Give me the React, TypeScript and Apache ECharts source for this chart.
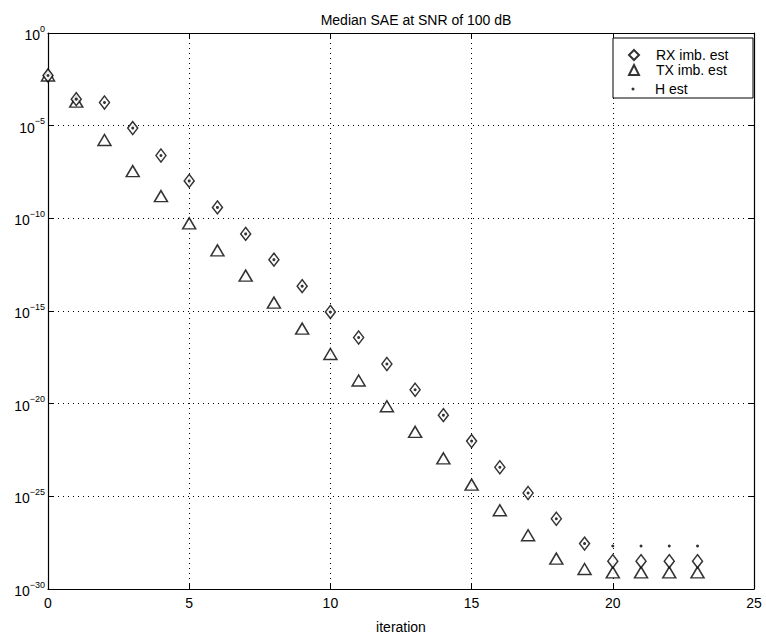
import React, { useEffect, useRef } from "react";
import * as echarts from "echarts";

const iterations = [0, 1, 2, 3, 4, 5, 6, 7, 8, 9, 10, 11, 12, 13, 14, 15, 16, 17, 18, 19, 20, 21, 22, 23];
// log10 of median SAE
const rxExp = [-2.29, -3.57, -3.75, -5.13, -6.61, -7.98, -9.41, -10.84, -12.23, -13.66, -15.05, -16.43, -17.86, -19.25, -20.62, -22.02, -23.43, -24.82, -26.21, -27.55, -28.5, -28.5, -28.5, -28.5];
const txExp = [-2.29, -3.7, -5.77, -7.45, -8.8, -10.27, -11.73, -13.09, -14.55, -15.95, -17.32, -18.75, -20.14, -21.52, -22.95, -24.37, -25.75, -27.1, -28.36, -28.92, -29.1, -29.1, -29.1, -29.1];
const hExp = [-2.29, -3.57, -3.75, -5.13, -6.61, -7.98, -9.41, -10.84, -12.23, -13.66, -15.05, -16.43, -17.86, -19.25, -20.62, -22.02, -23.43, -24.82, -26.21, -27.55, -27.68, -27.68, -27.68, -27.68];
const yTickExps = [0, -5, -10, -15, -20, -25, -30];

const FONT = "Liberation Sans, Arial, Helvetica, sans-serif";

export default function App() {
  const ref = useRef<HTMLDivElement>(null);
  useEffect(() => {
    if (!ref.current) return;
    const chart = echarts.init(ref.current, undefined, { renderer: "svg" });
    const toPts = (exps: number[]) => iterations.map((x, i) => [x, exps[i]]);
    const hollow = { color: "#fff", borderColor: "#000", borderWidth: 1.5 };
    const gridLine = { show: true, lineStyle: { color: "#000", type: [1, 4] as any, width: 1 } };
    const axisLine = { show: true, onZero: false, lineStyle: { color: "#000", width: 1.2 } };
    const tick = { show: true, inside: true, length: 6, lineStyle: { color: "#000" } };
    chart.setOption({
      animation: false,
      backgroundColor: "#fff",
      textStyle: { fontFamily: FONT },
      title: {
        text: "Median SAE at SNR of 100 dB",
        left: 411,
        textAlign: "center",
        top: 8,
        textStyle: { fontSize: 14, fontWeight: "normal", color: "#000", fontFamily: FONT },
      },
      graphic: [
        {
          type: "rect",
          shape: { x: 613, y: 38, width: 140, height: 60 },
          style: { fill: "#fff", stroke: "#000", lineWidth: 1 },
          z: 10,
        },
      ],
      legend: [
        {
          left: 628,
          top: 48,
          orient: "vertical",
          padding: 0,
          itemGap: 1,
          itemWidth: 10,
          itemHeight: 10,
          z: 20,
          textStyle: { fontSize: 14, color: "#000", fontFamily: FONT, padding: [0, 0, 0, 12] },
          data: ["RX imb. est", "TX imb. est"],
        },
        {
          left: 631.5,
          top: 82,
          orient: "vertical",
          padding: 0,
          itemWidth: 3,
          itemHeight: 3,
          z: 20,
          textStyle: { fontSize: 14, color: "#000", fontFamily: FONT, padding: [0, 0, 0, 15.5] },
          data: ["H est"],
        },
      ],
      grid: { left: 48, right: 12, top: 33, bottom: 46 },
      xAxis: [
        {
          type: "value",
          min: 0,
          max: 25,
          interval: 5,
          name: "iteration",
          nameLocation: "middle",
          nameGap: 31,
          nameTextStyle: { fontSize: 14, color: "#000", fontFamily: FONT },
          axisLine,
          axisTick: tick,
          axisLabel: { fontSize: 14, color: "#000", margin: 7, fontFamily: FONT },
          splitLine: gridLine,
        },
        {
          type: "value",
          position: "top",
          min: 0,
          max: 25,
          interval: 5,
          axisLine,
          axisTick: tick,
          axisLabel: { show: false },
          splitLine: { show: false },
        },
      ],
      yAxis: [
        {
          type: "value",
          min: -30,
          max: 0,
          interval: 5,
          axisLine,
          axisTick: tick,
          axisLabel: {
            color: "#000",
            margin: 3,
            fontFamily: FONT,
            formatter: (v: number) => {
              const e = Math.round(v);
              return yTickExps.includes(e) ? `{b|10}{s|${e < 0 ? "\u2212" + -e : e}}` : "";
            },
            rich: {
              b: { fontSize: 14, color: "#000", fontFamily: FONT, verticalAlign: "bottom", lineHeight: 18 },
              s: { fontSize: 9, color: "#000", fontFamily: FONT, verticalAlign: "top", lineHeight: 18, padding: [0, 0, 9, 0] },
            },
          },
          splitLine: gridLine,
        },
        {
          type: "value",
          position: "right",
          min: -30,
          max: 0,
          interval: 5,
          axisLine,
          axisTick: tick,
          axisLabel: { show: false },
          splitLine: { show: false },
        },
      ],
      series: [
        {
          name: "RX imb. est",
          type: "scatter",
          symbol: "diamond",
          symbolSize: [10, 13],
          itemStyle: hollow,
          data: toPts(rxExp),
          z: 3,
        },
        {
          name: "TX imb. est",
          type: "scatter",
          symbol: "triangle",
          symbolSize: [13, 11],
          itemStyle: hollow,
          data: toPts(txExp),
          z: 2,
        },
        {
          name: "H est",
          type: "scatter",
          symbol: "circle",
          symbolSize: 3,
          itemStyle: { color: "#000" },
          data: toPts(hExp),
          z: 4,
        },
      ],
    });
    return () => chart.dispose();
  }, []);
  return <div ref={ref} style={{ position: "fixed", left: 0, top: 0, width: 766, height: 639 }} />;
}
